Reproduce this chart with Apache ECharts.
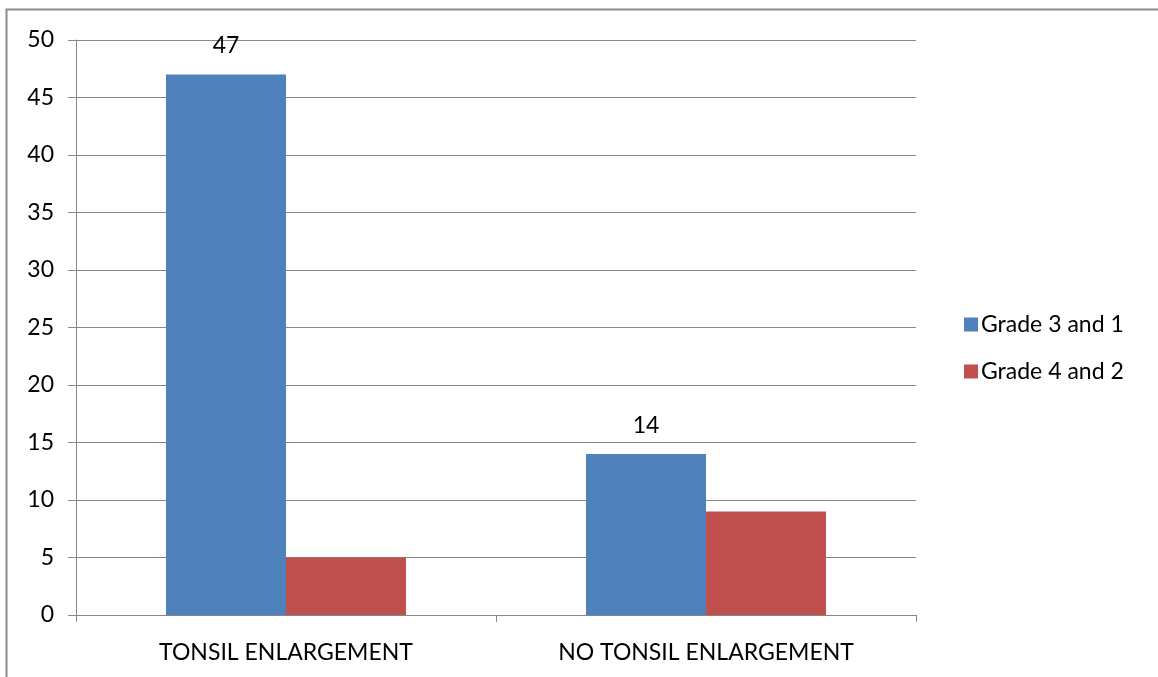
<!DOCTYPE html>
<html>
<head>
<meta charset="utf-8">
<script src="https://cdn.jsdelivr.net/npm/echarts@6/dist/echarts.min.js"></script>
<style>
  html, body { margin: 0; padding: 0; background: #fff; }
  #chart { width: 1158px; height: 677px; }
</style>
</head>
<body>
<div id="chart"></div>
<script>
const categories = ['TONSIL ENLARGEMENT', 'NO TONSIL ENLARGEMENT']
const grade31 = [47, 14]
const grade42 = [5, 9]
const seriesNames = ['Grade 3 and 1', 'Grade 4 and 2']

let chart = echarts.init(document.getElementById('chart'))
const font = 'Lato'
const lineColor = '#868686'

let options = {
  animation: false,
  textStyle: { fontFamily: font },
  graphic: [{
    type: 'rect',
    shape: { x: 6.5, y: 9.5, width: 1200, height: 700 },
    style: { fill: 'none', stroke: '#8c8c8c', lineWidth: 2 },
    silent: true
  }],
  grid: {
    left: 76,
    right: 242,
    top: 40,
    bottom: 62
  },
  legend: {
    orient: 'vertical',
    left: 959,
    top: 308,
    itemGap: 24,
    itemWidth: 14,
    itemHeight: 14,
    icon: 'rect',
    textStyle: { fontFamily: font, fontSize: 23, color: '#000', padding: [0, 0, 0, -2] },
    data: seriesNames
  },
  xAxis: {
    type: 'category',
    data: categories,
    axisLine: { lineStyle: { color: lineColor, width: 1 } },
    axisTick: { show: true, length: 7, lineStyle: { color: lineColor } },
    axisLabel: { color: '#000', fontSize: 23, fontFamily: font, margin: 26 }
  },
  yAxis: {
    type: 'value',
    min: 0,
    max: 50,
    interval: 5,
    axisLine: { show: true, lineStyle: { color: lineColor, width: 1 } },
    axisTick: { show: true, length: 8, lineStyle: { color: lineColor } },
    axisLabel: { color: '#000', fontSize: 23, fontFamily: font, margin: 22 },
    splitLine: { lineStyle: { color: lineColor, width: 1 } }
  },
  series: [
    {
      name: seriesNames[0],
      type: 'bar',
      barGap: '0%',
      barCategoryGap: '42.86%',
      itemStyle: { color: '#4F81BD' },
      label: {
        show: true,
        position: 'top',
        distance: 17,
        color: '#000',
        fontSize: 23,
        fontFamily: font
      },
      data: grade31
    },
    {
      name: seriesNames[1],
      type: 'bar',
      barGap: '0%',
      barCategoryGap: '42.86%',
      itemStyle: { color: '#C0504D' },
      data: grade42
    }
  ]
}
chart.setOption(options)
</script>
</body>
</html>
